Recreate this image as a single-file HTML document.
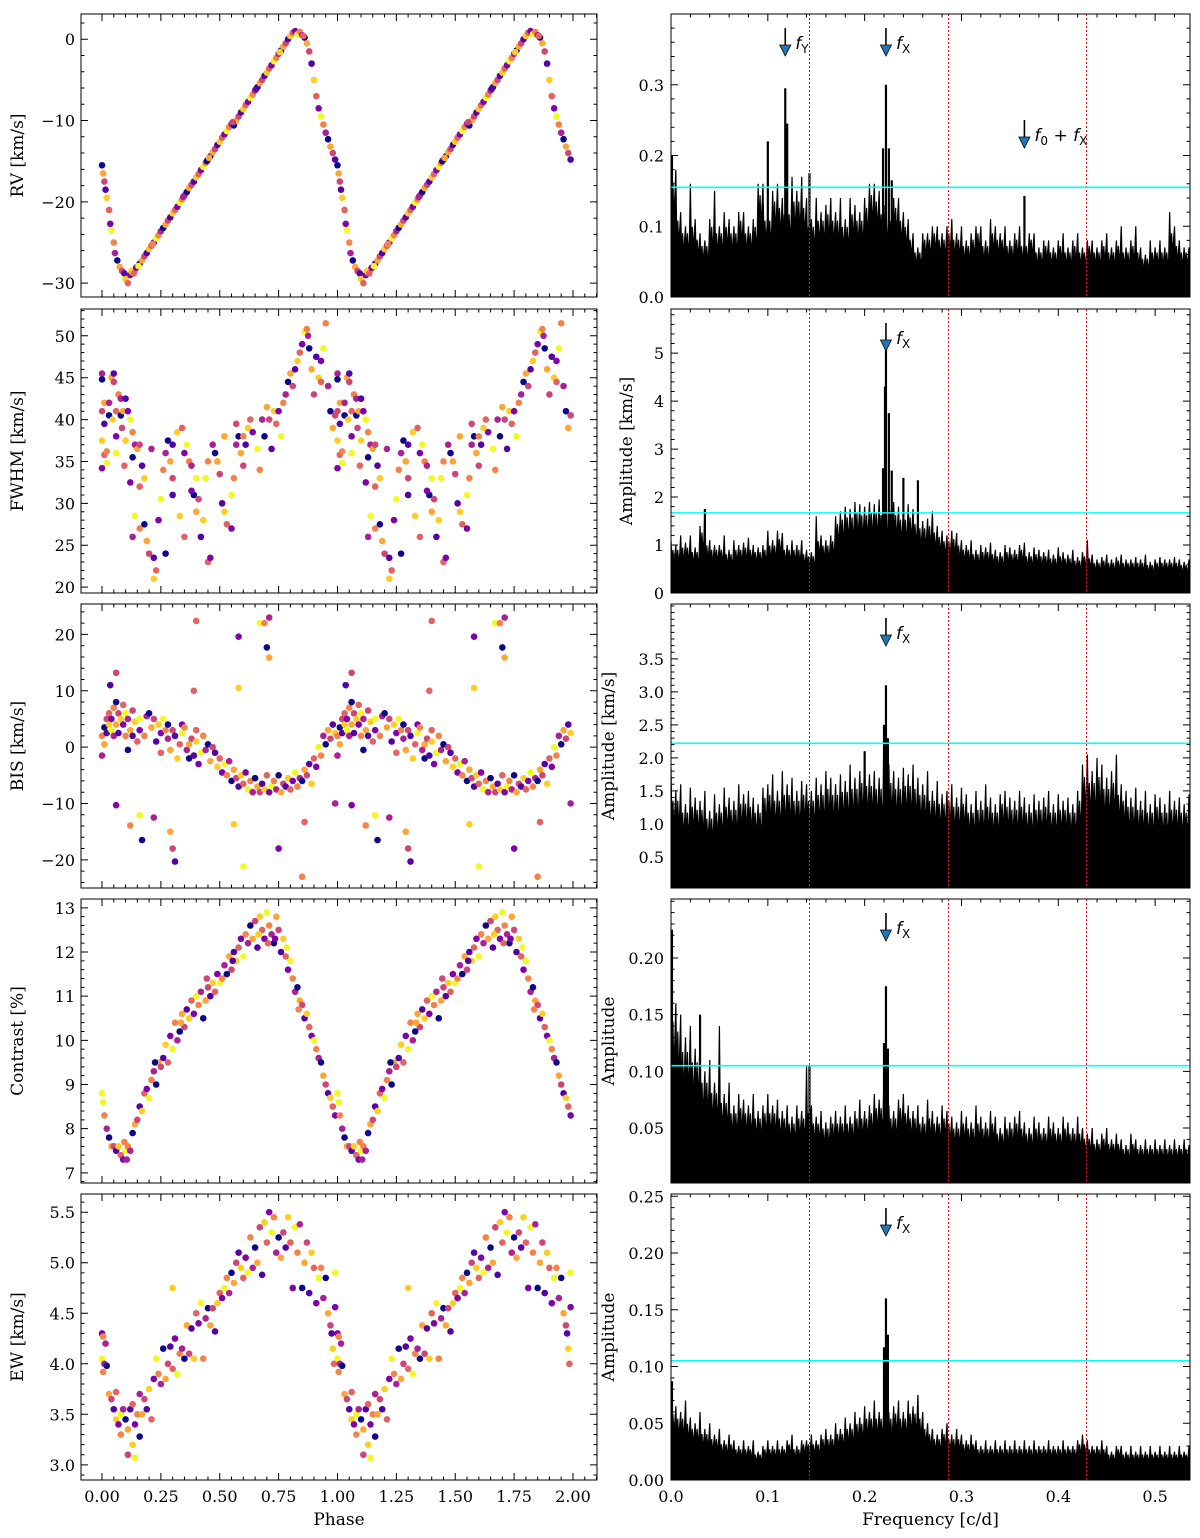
<!DOCTYPE html>
<html><head><meta charset="utf-8">
<style>
html,body{margin:0;padding:0;background:#fff;}
svg{display:block;}
text{font-family:"DejaVu Serif","Liberation Serif",serif;fill:#000;}
.ann{font-family:"DejaVu Sans","Liberation Sans",sans-serif;}
</style></head>
<body>
<svg id="fig" width="1200" height="1538" viewBox="0 0 1200 1538" xmlns="http://www.w3.org/2000/svg"></svg>
<script>
// ---------- DATA ----------
const rvPhase=[0,0.005,0.01,0.015,0.02,0.03,0.035,0.04,0.05,0.055,0.065,0.075,0.085,0.095,0.1,0.11,0.12,0.13,0.14,0.15,0.16,0.17,0.18,0.19,0.2,0.21,0.22,0.23,0.24,0.25,0.26,0.27,0.28,0.29,0.3,0.31,0.32,0.33,0.34,0.35,0.36,0.37,0.38,0.39,0.4,0.41,0.42,0.43,0.44,0.45,0.46,0.47,0.48,0.49,0.5,0.51,0.52,0.53,0.54,0.55,0.56,0.57,0.58,0.59,0.6,0.61,0.62,0.63,0.64,0.65,0.66,0.67,0.68,0.69,0.7,0.71,0.72,0.73,0.74,0.75,0.76,0.77,0.78,0.79,0.8,0.81,0.82,0.83,0.84,0.85,0.86,0.87,0.88,0.89,0.9,0.91,0.92,0.93,0.94,0.95,0.96,0.97,0.98,0.99,0.125,0.135,0.145,0.155,0.215,0.345,0.445,0.455,0.555,0.655,0.755,0.855];
const rvValue=[-15.5,-16.5,-17.5,-18.5,-19.5,-21,-22.7,-23.5,-25,-26.3,-27.2,-28,-28.5,-28.8,
-29.5,-30,-29,-28.7,-28.4,-28.0,-27.6,-27.2,-26.7,-26.3,-25.8,-25.4,-25.0,-24.5,-24.1,-23.6,-23.2,-22.8,-22.3,-21.9,-21.4,-21.0,-20.6,-20.1,-19.7,-19.2,-18.8,-18.3,-17.9,-17.5,-17.0,-16.6,-16.1,-15.7,-15.2,-14.8,-14.4,-13.9,-13.5,-13.0,-12.6,-12.1,-11.7,-11.3,-10.8,-10.4,-10.6,-10.0,-9.5,-9.0,-8.6,-8.1,-7.7,-7.2,-6.8,-6.3,-5.9,-5.4,-5.0,-4.5,-4.1,-3.6,-3.2,-2.7,-2.3,-1.8,-1.4,-0.9,-0.5,0,0.4,0.8,1.0,0.6,0.9,0.5,0.2,-0.5,-1.5,-3,-5,-7,-8.5,-9.5,-10.5,-11.5,-12.3,-13.2,-14,-14.8,
-28.5,-28.8,-28.1,-27.9,-25.2,-19.4,-15.0,-14.6,-10.2,-6.1,-1.6,0.4];

const fwPhase=[0,0,0.01,0,0.01,0,0.01,0,0.02,0.02,0.03,0.03,0.04,0.05,0.05,0.045,0.06,0.06,0.06,0.07,0.08,0.08,0.09,0.085,0.1,0.1,0.095,0.11,0.12,0.13,0.14,0.13,0.15,0.16,0.17,0.18,0.16,0.12,0.14,0.16,0.13,0.18,0.19,0.2,0.22,0.22,0.23,0.24,0.25,0.26,0.27,0.28,0.29,0.3,0.3,0.32,0.34,0.35,0.36,0.37,0.38,0.39,0.4,0.41,0.42,0.43,0.45,0.46,0.44,0.45,0.47,0.48,0.49,0.5,0.51,0.52,0.53,0.55,0.55,0.56,0.57,0.58,0.59,0.6,0.61,0.62,0.63,0.64,0.66,0.67,0.68,0.69,0.7,0.71,0.72,0.73,0.74,0.75,0.76,0.77,0.78,0.79,0.8,0.81,0.82,0.83,0.84,0.85,0.86,0.87,0.875,0.88,0.89,0.9,0.91,0.92,0.93,0.93,0.94,0.95,0.96,0.97,0.98,0.99,0.3,0.33,0.35,0.38,0.4,0.6,0.21,0.27,0.52,0.57];
const fwValue=[45.5,44.8,42,41,39.5,37.5,35.8,34.2,34.8,36.2,42,40.5,45,44.5,45.5,40,41,38,36,43,42.5,40.5,41,39,42.5,37.5,34.5,41,40,38.5,37,35.5,36.5,37,34.5,33,32,32.5,28.5,27,26,27.5,25.5,24,23.5,21,22,28,30.5,34,36,37.5,35,33,31,38.5,39,36,37,35,34.5,31,29,30.5,26,28,23,23.5,33,35,37,36,35,33.5,30,29,27.5,27,31,33,37,38,36,34.5,37,39,40,38.5,36.5,34,40,38,41.5,40,36.5,41,39.5,41,38,42,43,44.5,45.5,44,46,47,48,49,50.5,50.8,50,48.5,46,43,47.5,45,44.5,47,48.5,51.5,44,41,39,40.5,37,28.5,26,31.5,33,38,36.5,24,38,39.5];

const bisPhase=[0,0,0.01,0.01,0.02,0.02,0.03,0.03,0.04,0.04,0.05,0.05,0.06,0.06,0.07,0.07,0.08,0.09,0.09,0.1,0.1,0.11,0.11,0.12,0.13,0.13,0.14,0.15,0.16,0.16,0.18,0.19,0.2,0.21,0.22,0.23,0.24,0.25,0.25,0.26,0.27,0.28,0.28,0.29,0.3,0.31,0.32,0.33,0.34,0.34,0.35,0.36,0.37,0.37,0.38,0.39,0.4,0.4,0.41,0.42,0.43,0.44,0.45,0.46,0.47,0.48,0.49,0.5,0.51,0.52,0.53,0.54,0.55,0.56,0.57,0.58,0.59,0.6,0.61,0.62,0.63,0.64,0.65,0.66,0.67,0.68,0.69,0.7,0.71,0.72,0.73,0.74,0.75,0.76,0.77,0.78,0.79,0.8,0.81,0.82,0.83,0.84,0.85,0.86,0.87,0.88,0.89,0.9,0.91,0.92,0.93,0.94,0.95,0.96,0.97,0.98,0.99,0.4,0.58,0.67,0.69,0.71,0.70,0.71,0.06,0.035,0.58,0.39,0.06,0.16,0.12,0.22,0.17,0.29,0.3,0.31,0.56,0.86,0.75,0.6,0.85,0.99];
const bisValue=[2,-1.5,3.5,0.5,5,2.5,4,6,5,3,7,2,8,4,6,2.5,5,7.5,4,6,2,5,-0.5,3,6.5,2,4.5,1,3,5,2,5.5,6,3.5,5,1,4,-1,2.5,5,3,1.5,4,-0.5,3,2,-2,0.5,4,2.5,3.5,-0.5,-2,0.5,1.5,-1.5,1,3,-3,-1,2,-0.5,0.5,-2.5,0,-1,-3.5,-2,-4.5,-3,-5,-2.5,-6,-4,-5.5,-7,-5,-6.5,-4.5,-7.5,-6,-8,-5.5,-7,-8,-6.5,-7.5,-5,-8,-7,-6,-7.5,-5,-8,-6.5,-7,-5.5,-7.5,-6,-4.5,-7,-5.5,-6,-4,-5,-3,-6.5,-2,-3.5,0,-1.5,2,0.5,3,1.5,4,2.5,22.4,19.6,22,22,23,17.7,15.9,13.2,11,10.5,10,-10.3,-12.1,-13.9,-12.5,-16.5,-15,-18,-20.3,-13.7,-13.3,-18,-21.2,-23,-10];

const ctPhase=[0,0.01,0.02,0.03,0.04,0.05,0.06,0.07,0.08,0.09,0.1,0.11,0.12,0.13,0.14,0.15,0.16,0.17,0.18,0.19,0.2,0.21,0.22,0.23,0.24,0.25,0.26,0.27,0.28,0.29,0.3,0.31,0.32,0.33,0.34,0.35,0.36,0.37,0.38,0.39,0.4,0.41,0.42,0.43,0.44,0.45,0.46,0.47,0.48,0.49,0.5,0.51,0.52,0.53,0.54,0.55,0.56,0.57,0.58,0.59,0.6,0.61,0.62,0.63,0.64,0.65,0.66,0.67,0.68,0.69,0.7,0.71,0.72,0.73,0.74,0.75,0.76,0.77,0.78,0.79,0.8,0.81,0.82,0.83,0.84,0.85,0.86,0.87,0.88,0.89,0.9,0.91,0.92,0.93,0.94,0.95,0.96,0.97,0.98,0.99,0.005,0.095,0.105,0.225,0.335,0.445,0.555,0.665,0.705,0.735,0.785,0.835];
const ctValue=[8.8,8.3,8.0,7.8,7.6,7.6,7.5,7.6,7.4,7.3,7.5,7.6,7.5,7.9,8.1,8.2,8.5,8.4,8.8,8.9,8.7,9.1,9.3,9.0,9.5,9.4,9.6,9.9,9.5,10.1,9.8,10.4,10.0,10.2,10.6,10.3,10.7,10.5,10.9,10.6,11.0,10.8,11.1,10.5,10.9,11.2,11.0,11.3,11.1,11.5,11.3,11.4,11.7,11.5,11.9,11.6,12.0,11.8,12.1,12.3,11.9,12.4,12.2,12.6,12.3,12.7,12.1,12.8,12.5,12.3,12.9,12.6,12.4,12.2,12.8,12.5,12.0,12.3,11.9,11.6,11.8,11.4,11.1,11.2,10.9,10.8,10.5,10.6,10.3,10.1,10.0,9.8,9.6,9.5,9.2,9.0,8.8,8.7,8.5,8.3,8.6,7.7,7.3,9.5,10.4,11.4,11.8,12.4,12.2,12.3,12.1,10.7];

const ewPhase=[0,0,0.005,0.01,0.02,0.03,0.04,0.05,0.06,0.06,0.07,0.08,0.08,0.09,0.1,0.11,0.11,0.12,0.13,0.13,0.14,0.14,0.15,0.16,0.16,0.17,0.18,0.19,0.2,0.21,0.22,0.23,0.24,0.25,0.26,0.27,0.28,0.29,0.3,0.3,0.31,0.32,0.33,0.34,0.35,0.36,0.37,0.38,0.39,0.4,0.41,0.42,0.43,0.44,0.45,0.46,0.47,0.48,0.49,0.5,0.51,0.52,0.53,0.54,0.55,0.56,0.57,0.58,0.59,0.6,0.61,0.62,0.63,0.64,0.65,0.66,0.67,0.68,0.69,0.7,0.71,0.72,0.73,0.74,0.75,0.76,0.77,0.78,0.79,0.8,0.81,0.82,0.83,0.84,0.85,0.86,0.87,0.88,0.89,0.9,0.91,0.92,0.93,0.94,0.95,0.96,0.97,0.975,0.98,0.985,0.99,0.99,0.005,0.015];
const ewValue=[4.3,4.05,3.92,4.0,3.98,3.7,3.65,3.55,3.45,3.72,3.4,3.5,3.3,3.55,3.45,3.35,3.1,3.55,3.2,3.6,3.4,3.07,3.5,3.7,3.28,3.5,3.65,3.55,3.75,3.45,3.85,4.05,3.9,3.8,4.15,3.85,4.0,4.17,4.75,3.95,4.25,3.9,4.1,4.15,4.05,4.38,4.1,4.35,4.05,4.5,4.4,4.6,4.05,4.45,4.55,4.38,4.55,4.32,4.6,4.7,4.65,4.75,4.85,4.7,4.9,4.8,5.0,5.1,4.95,4.85,5.05,4.9,5.25,4.95,5.15,5.0,5.35,4.88,5.4,5.2,5.5,5.3,5.45,5.1,5.25,5.05,5.3,5.15,5.45,5.2,4.75,5.35,5.1,5.38,4.75,5.0,5.2,4.7,5.1,4.95,4.6,4.85,4.95,4.65,4.85,4.5,4.38,4.3,4.15,4.0,4.56,4.9,4.27,4.2];

// Periodogram envelopes: amplitude per 0.005 c/d bin
const binStep=0.005;
const pg1Amp=[0.2,0.18,0.12,0.1,0.16,0.11,0.09,0.08,0.11,0.15,0.1,0.12,0.11,0.1,0.12,0.12,0.1,0.11,0.16,0.16,0.12,0.15,0.16,0.14,0.13,0.17,0.15,0.17,0.14,0.11,0.14,0.12,0.13,0.14,0.12,0.14,0.11,0.14,0.13,0.12,0.14,0.16,0.16,0.15,0.13,0.12,0.14,0.14,0.12,0.11,0.09,0.07,0.09,0.09,0.1,0.1,0.09,0.1,0.11,0.09,0.1,0.08,0.09,0.1,0.1,0.08,0.11,0.1,0.09,0.1,0.08,0.09,0.1,0.08,0.09,0.09,0.07,0.08,0.08,0.07,0.08,0.09,0.07,0.08,0.09,0.07,0.08,0.08,0.07,0.08,0.09,0.07,0.08,0.1,0.07,0.08,0.1,0.07,0.06,0.08,0.07,0.08,0.07,0.12,0.1,0.08,0.07,0.07];
const pg1PeakF=[0.001,0.1,0.118,0.12,0.143,0.219,0.222,0.225,0.228,0.365];
const pg1PeakA=[0.2,0.22,0.295,0.245,0.175,0.21,0.3,0.21,0.165,0.143];

const pg2Amp=[1.1,1.0,1.2,1.05,1.2,0.95,1.4,1.75,1.1,1.0,1.0,1.2,0.9,1.1,1.0,1.05,1.15,1.0,0.95,1.0,1.3,1.1,1.3,1.25,1.0,1.1,1.0,1.1,0.9,0.85,1.6,1.2,1.1,1.2,1.6,1.7,1.8,1.75,1.9,1.85,1.8,1.9,1.85,1.95,1.8,1.9,1.9,1.8,1.7,1.85,1.75,1.6,1.5,1.55,1.7,1.4,1.3,1.2,1.3,1.25,1.1,1.0,1.1,0.9,1.0,0.95,1.05,0.9,0.85,1.0,0.95,0.9,1.0,1.05,0.85,0.95,0.9,0.85,0.9,0.8,0.95,0.85,0.8,0.9,0.75,0.85,1.1,0.8,0.7,0.75,0.8,0.7,0.75,0.8,0.7,0.7,0.75,0.7,0.8,0.65,0.7,0.75,0.7,0.7,0.75,0.7,0.65,0.7];
const pg2PeakF=[0.035,0.219,0.221,0.222,0.225,0.228,0.24,0.255];
const pg2PeakA=[1.75,2.6,4.3,5.15,3.75,2.55,2.4,2.35];

const pg3Amp=[1.85,1.5,1.6,1.3,1.55,1.4,1.35,1.5,1.2,1.45,1.3,1.55,1.4,1.35,1.6,1.45,1.5,1.4,1.3,1.55,1.6,1.75,1.5,1.8,1.6,1.7,1.5,1.65,1.6,1.5,1.7,1.6,1.8,1.7,1.6,1.75,1.65,1.9,1.7,1.8,2.1,1.75,1.8,1.7,2.5,1.9,1.8,1.7,1.85,1.75,1.9,1.7,1.6,1.8,1.5,1.65,1.45,1.5,1.6,1.4,1.55,1.45,1.3,1.5,1.35,1.6,1.4,1.3,1.45,1.5,1.4,1.35,1.5,1.4,1.3,1.45,1.35,1.4,1.5,1.3,1.45,1.35,1.4,1.3,1.5,1.9,2.05,1.8,2.0,1.9,1.7,1.8,2.05,1.6,1.5,1.4,1.55,1.35,1.5,1.3,1.45,1.4,1.3,1.5,1.35,1.4,1.3,1.45];
const pg3PeakF=[0.2,0.22,0.222,0.224];
const pg3PeakA=[2.1,2.5,3.1,2.3];

const pg4Amp=[0.22,0.16,0.15,0.13,0.14,0.12,0.13,0.1,0.11,0.09,0.14,0.08,0.09,0.07,0.08,0.075,0.07,0.08,0.065,0.07,0.08,0.07,0.075,0.065,0.07,0.06,0.07,0.065,0.105,0.07,0.06,0.065,0.055,0.06,0.065,0.06,0.07,0.06,0.065,0.075,0.065,0.07,0.08,0.075,0.1,0.07,0.065,0.075,0.08,0.07,0.065,0.07,0.06,0.075,0.065,0.06,0.07,0.065,0.06,0.055,0.065,0.06,0.055,0.07,0.06,0.055,0.065,0.06,0.05,0.06,0.055,0.06,0.065,0.055,0.05,0.06,0.055,0.05,0.06,0.055,0.05,0.06,0.055,0.05,0.06,0.05,0.045,0.05,0.04,0.045,0.05,0.04,0.045,0.04,0.035,0.045,0.04,0.035,0.04,0.035,0.04,0.035,0.04,0.035,0.04,0.035,0.04,0.035];
const pg4PeakF=[0.001,0.03,0.143,0.22,0.222,0.224];
const pg4PeakA=[0.225,0.15,0.105,0.125,0.175,0.12];

const pg5Amp=[0.085,0.065,0.06,0.07,0.055,0.05,0.06,0.045,0.05,0.04,0.045,0.035,0.04,0.035,0.03,0.035,0.03,0.035,0.025,0.03,0.035,0.03,0.035,0.03,0.035,0.04,0.03,0.035,0.035,0.04,0.035,0.04,0.045,0.04,0.05,0.045,0.055,0.05,0.06,0.055,0.065,0.06,0.07,0.06,0.065,0.06,0.065,0.07,0.06,0.07,0.065,0.075,0.06,0.05,0.045,0.04,0.045,0.05,0.04,0.045,0.04,0.035,0.04,0.035,0.03,0.035,0.03,0.035,0.03,0.035,0.03,0.035,0.03,0.035,0.03,0.035,0.03,0.03,0.035,0.03,0.03,0.035,0.03,0.03,0.035,0.04,0.035,0.03,0.03,0.035,0.03,0.025,0.03,0.03,0.025,0.03,0.025,0.03,0.025,0.03,0.025,0.03,0.025,0.03,0.025,0.03,0.025,0.03];
const pg5PeakF=[0.001,0.22,0.222,0.224];
const pg5PeakA=[0.087,0.117,0.16,0.128];

const sigLevels=[0.155,1.67,2.22,0.105,0.105];
const aliasF=[0.143,0.286,0.429];

const leftTicks=[[0,-10,-20,-30],[20,25,30,35,40,45,50],[-20,-10,0,10,20],[7,8,9,10,11,12,13],[3.0,3.5,4.0,4.5,5.0,5.5]];
const leftTickLabels=[["0","−10","−20","−30"],["20","25","30","35","40","45","50"],["−20","−10","0","10","20"],["7","8","9","10","11","12","13"],["3.0","3.5","4.0","4.5","5.0","5.5"]];
const rightTicks=[[0,0.1,0.2,0.3],[0,1,2,3,4,5],[0.5,1,1.5,2,2.5,3,3.5],[0.05,0.1,0.15,0.2],[0,0.05,0.1,0.15,0.2,0.25]];
const rightTickLabels=[["0.0","0.1","0.2","0.3"],["0","1","2","3","4","5"],["0.5","1.0","1.5","2.0","2.5","3.0","3.5"],["0.05","0.10","0.15","0.20"],["0.00","0.05","0.10","0.15","0.20","0.25"]];
const phaseTicks=[0,0.25,0.5,0.75,1,1.25,1.5,1.75,2];
const phaseTickLabels=["0.00","0.25","0.50","0.75","1.00","1.25","1.50","1.75","2.00"];
const freqTicks=[0,0.1,0.2,0.3,0.4,0.5];
const freqTickLabels=["0.0","0.1","0.2","0.3","0.4","0.5"];
const leftLabels=["RV [km/s]","FWHM [km/s]","BIS [km/s]","Contrast [%]","EW [km/s]"];
const rightLabels=["","Amplitude [km/s]","Amplitude [km/s]","Amplitude","Amplitude"];

// ---------- LAYOUT ----------
const NS="http://www.w3.org/2000/svg";
const svg=document.getElementById('fig');
const LX=[81,597], RX=[671,1190];
const rows=[[14,297],[309,593],[604,888],[899,1183],[1194,1480]];
const leftDom=[[-31.7,3.1],[19.3,53.2],[-25.0,25.4],[6.77,13.2],[2.85,5.68]];
const rightDom=[[0,0.40],[0,5.92],[0.03,4.33],[0.0015,0.252],[0,0.252]];
const phaseDom=[-0.0892,2.102], freqDom=[0,0.536];
const leftData=[[rvPhase,rvValue],[fwPhase,fwValue],[bisPhase,bisValue],[ctPhase,ctValue],[ewPhase,ewValue]];
const pgAmp=[pg1Amp,pg2Amp,pg3Amp,pg4Amp,pg5Amp];
const pgPkF=[pg1PeakF,pg2PeakF,pg3PeakF,pg4PeakF,pg5PeakF];
const pgPkA=[pg1PeakA,pg2PeakA,pg3PeakA,pg4PeakA,pg5PeakA];
const palette=['#0d0887','#5302a3','#7e03a8','#a82296','#cc4778','#e16462','#f2844b','#fca636','#fcce25','#f0f921'];

function mk(tag,attrs,parent){const e=document.createElementNS(NS,tag);for(const k in attrs)e.setAttribute(k,attrs[k]);(parent||svg).appendChild(e);return e;}
function lin(d,r){return v=>r[0]+(v-d[0])/(d[1]-d[0])*(r[1]-r[0]);}

function drawTicks(g,xs,ys,xr,yr,xMaj,xMin,yMaj,yMin){
  let d='';
  xMaj.forEach(v=>{const x=xs(v);d+=`M${x},${yr[1]}v-7M${x},${yr[0]}v7`;});
  xMin.forEach(v=>{const x=xs(v);d+=`M${x},${yr[1]}v-3.5M${x},${yr[0]}v3.5`;});
  yMaj.forEach(v=>{const y=ys(v);d+=`M${xr[0]},${y}h7M${xr[1]},${y}h-7`;});
  yMin.forEach(v=>{const y=ys(v);d+=`M${xr[0]},${y}h3.5M${xr[1]},${y}h-3.5`;});
  const p=mk('path',{d:d,stroke:'#000','stroke-width':1,fill:'none'},g);
  
  
}
function rangeSteps(a,b,s){s=Math.abs(s);const o=[];if(!(s>0))return o;for(let v=Math.ceil(a/s-1e-9)*s;v<=b+1e-9;v+=s)o.push(+v.toFixed(6));return o;}

for(let r=0;r<5;r++){
  const [y0,y1]=rows[r];
  // ---- left scatter panel ----
  const gl=mk('g',{});
  
  
  const xs=lin(phaseDom,LX), ys=lin(leftDom[r],[y1,y0]);
  const cp='clipL'+r;
  const cl=mk('clipPath',{id:cp},gl); mk('rect',{x:LX[0],y:y0,width:LX[1]-LX[0],height:y1-y0},cl);
  const dots=mk('g',{'clip-path':`url(#${cp})`},gl);
  
  
  const [ph,val]=leftData[r];
  const n=Math.min(ph.length,val.length);
  for(let k=0;k<2;k++){
    for(let i=0;i<n;i++){
      const c=mk('circle',{cx:xs(ph[i]+k),cy:ys(val[i]),r:3.3,fill:palette[(i*7+r*3)%palette.length]},dots);
      
      
    }
  }
  const fr=mk('rect',{x:LX[0],y:y0,width:LX[1]-LX[0],height:y1-y0,fill:'none',stroke:'#000','stroke-width':1},gl);
  
  
  const ld=leftDom[r], lt=leftTicks[r];
  const lstep=Math.abs(lt[1]-lt[0]);
  drawTicks(gl,xs,ys,LX,[y0,y1],phaseTicks,rangeSteps(0,2.1,0.05),lt,rangeSteps(ld[0],ld[1],lstep/5));
  lt.forEach((v,i)=>{const t=mk('text',{x:LX[0]-6,y:ys(v)+6,'text-anchor':'end','font-size':16},gl);t.textContent=leftTickLabels[r][i];
    });
  const yl=mk('text',{x:0,y:0,'text-anchor':'middle','font-size':17,transform:`translate(23,${(y0+y1)/2}) rotate(-90)`},gl);
  yl.textContent=leftLabels[r];
  
  
  if(r===4){
    phaseTicks.forEach((v,i)=>{const t=mk('text',{x:xs(v),y:y1+22,'text-anchor':'middle','font-size':16},gl);t.textContent=phaseTickLabels[i];
      });
    const xl=mk('text',{x:(LX[0]+LX[1])/2,y:y1+45,'text-anchor':'middle','font-size':17},gl);xl.textContent='Phase';
    
  }

  // ---- right periodogram panel ----
  const gr=mk('g',{});
  
  
  const fx=lin(freqDom,RX), ay=lin(rightDom[r],[y1,y0]);
  const cpr='clipR'+r;
  const cr=mk('clipPath',{id:cpr},gr); mk('rect',{x:RX[0],y:y0,width:RX[1]-RX[0],height:y1-y0},cr);
  const pg=mk('g',{'clip-path':`url(#${cpr})`},gr);
  const amp=pgAmp[r];
  const base=y1;
  let pts=`${fx(0)},${base} `;
  for(let i=0;i<amp.length;i++){
    const f=i*binStep;
    pts+=`${fx(f)},${ay(amp[i])} `;
    if(i<amp.length-1){
      const lo=Math.min(amp[i],amp[i+1]);
      pts+=`${fx(f+binStep*0.2)},${ay(lo*0.62)} ${fx(f+binStep*0.4)},${ay(lo*0.9)} ${fx(f+binStep*0.6)},${ay(lo*0.6)} ${fx(f+binStep*0.8)},${ay(lo*0.8)} `;
    }
  }
  pts+=`${fx((amp.length-1)*binStep)},${base}`;
  const poly=mk('polygon',{points:pts,fill:'#000',stroke:'#000','stroke-width':1.2,'stroke-linejoin':'miter'},pg);
  
  
  pgPkF[r].forEach((f,i)=>{
    const l=mk('line',{x1:fx(f),x2:fx(f),y1:base,y2:ay(pgPkA[r][i]),stroke:'#000','stroke-width':2.2},pg);
    
    
  });
  aliasF.forEach(f=>{
    const x=Math.round(fx(f))+0.5;
    const l=mk('line',{x1:x,x2:x,y1:y0,y2:y1,stroke:'#ff0000','stroke-width':1,'stroke-dasharray':'2,2'},gr);
    
    
  });
  const sl=mk('line',{x1:RX[0],x2:RX[1],y1:ay(sigLevels[r]),y2:ay(sigLevels[r]),stroke:'#00ffff','stroke-width':1.6},gr);
  
  
  const fr2=mk('rect',{x:RX[0],y:y0,width:RX[1]-RX[0],height:y1-y0,fill:'none',stroke:'#000','stroke-width':1},gr);
  
  
  const rd=rightDom[r], rt=rightTicks[r];
  const rstep=Math.abs(rt[1]-rt[0]);
  drawTicks(gr,fx,ay,RX,[y0,y1],freqTicks,rangeSteps(0,0.536,0.02),rt,rangeSteps(rd[0],rd[1],rstep/5));
  rt.forEach((v,i)=>{const t=mk('text',{x:RX[0]-7,y:ay(v)+6,'text-anchor':'end','font-size':16},gr);t.textContent=rightTickLabels[r][i];
    });
  if(rightLabels[r]){
    const lx=(r===1)?632:614;
    const t=mk('text',{x:0,y:0,'text-anchor':'middle','font-size':17,transform:`translate(${lx},${(y0+y1)/2}) rotate(-90)`},gr);
    t.textContent=rightLabels[r];
    
    
  }
  if(r===4){
    freqTicks.forEach((v,i)=>{const t=mk('text',{x:fx(v),y:y1+22,'text-anchor':'middle','font-size':16},gr);t.textContent=freqTickLabels[i];
      });
    const xl=mk('text',{x:(RX[0]+RX[1])/2,y:y1+45,'text-anchor':'middle','font-size':17},gr);xl.textContent='Frequency [c/d]';
    
  }
  // arrows
  const arrows=[{f:0.222,sub:'X',pre:'',y:y0+14}];
  if(r===0){arrows.push({f:0.118,sub:'Y',pre:'',y:y0+14});arrows.push({f:0.365,sub:'X',pre:'0',y:y0+106});}
  arrows.forEach(a=>{
    const g=mk('g',{},gr);
    
    
    const x=fx(a.f);
    mk('line',{x1:x,x2:x,y1:a.y,y2:a.y+20,stroke:'#000','stroke-width':1.6},g);
    mk('polygon',{points:`${x-5.5},${a.y+17} ${x+5.5},${a.y+17} ${x},${a.y+28}`,fill:'#1f77b4',stroke:'#000','stroke-width':0.8},g);
    const t=mk('text',{x:x+10,y:a.y+21,'font-size':17,'class':'ann'},g);
    if(a.pre){
      t.innerHTML=`<tspan font-style="italic">f</tspan><tspan font-size="12" dy="4">0</tspan><tspan dy="-4"> + </tspan><tspan font-style="italic">f</tspan><tspan font-size="12" dy="4">X</tspan>`;
    } else {
      t.innerHTML=`<tspan font-style="italic">f</tspan><tspan font-size="12" dy="4">${a.sub}</tspan>`;
    }
  });
}
</script>
</body></html>
